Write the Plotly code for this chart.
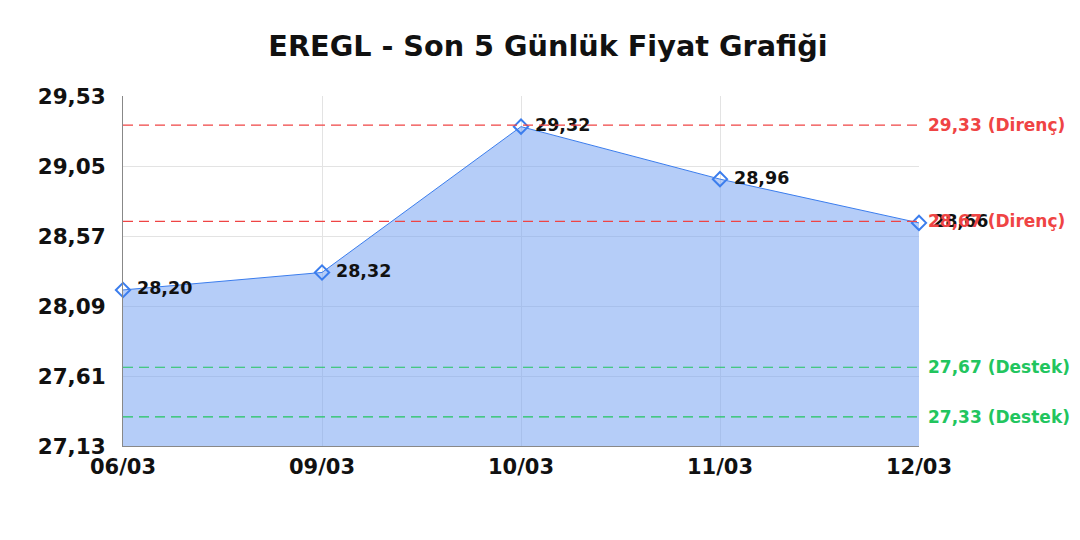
import plotly.graph_objects as go

dates = ["06/03", "09/03", "10/03", "11/03", "12/03"]
prices = [28.20, 28.32, 29.32, 28.96, 28.66]

resistance = [29.33, 28.67]
support = [27.67, 27.33]

y_ticks = [27.13, 27.61, 28.09, 28.57, 29.05, 29.53]

line_color = "#3b7ded"
red = "#ef4444"
green = "#22c55e"
font_family = "DejaVu Sans"


def tr(v):
    return f"{v:.2f}".replace(".", ",")


fig = go.Figure()

fig.add_trace(
    go.Scatter(
        x=dates,
        y=prices,
        mode="lines+markers+text",
        fill="tozeroy",
        fillcolor="rgba(120, 164, 242, 0.55)",
        line=dict(color=line_color, width=1),
        marker=dict(symbol="diamond-open", size=11, color=line_color, line=dict(width=2)),
        text=[" " + tr(p) for p in prices],
        textposition="middle right",
        textfont=dict(family=font_family, size=17.5, color="#111111", weight="bold"),
        cliponaxis=False,
        showlegend=False,
        hoverinfo="x+y",
    )
)

for level in resistance:
    fig.add_shape(
        type="line", xref="paper", yref="y", x0=0, x1=1, y0=level, y1=level,
        line=dict(color=red, width=1.2, dash="10px,6px"), layer="above",
    )
    fig.add_annotation(
        xref="paper", yref="y", x=1, y=level, xanchor="left", xshift=7,
        text=f"{tr(level)} (Direnç)", showarrow=False,
        font=dict(family=font_family, size=17, color=red, weight="bold"),
    )

for level in support:
    fig.add_shape(
        type="line", xref="paper", yref="y", x0=0, x1=1, y0=level, y1=level,
        line=dict(color=green, width=1.2, dash="10px,6px"), layer="above",
    )
    fig.add_annotation(
        xref="paper", yref="y", x=1, y=level, xanchor="left", xshift=7,
        text=f"{tr(level)} (Destek)", showarrow=False,
        font=dict(family=font_family, size=17, color=green, weight="bold"),
    )

fig.update_layout(
    width=1080,
    height=540,
    paper_bgcolor="white",
    plot_bgcolor="white",
    margin=dict(l=115, r=169, t=88, b=102),
    title=dict(
        text="EREGL - Son 5 Günlük Fiyat Grafiği",
        x=0.5, xanchor="center", y=0.93, yanchor="middle",
        font=dict(family=font_family, size=28.7, color="#111111", weight="bold"),
    ),
    xaxis=dict(
        type="category",
        range=[0, 4],
        showgrid=True,
        gridcolor="#e3e3e3",
        showline=True,
        linecolor="#888888",
        ticks="",
        ticklabelstandoff=2,
        tickfont=dict(family=font_family, size=21, color="#111111", weight="bold"),
    ),
    yaxis=dict(
        range=[27.13, 29.53],
        tickvals=y_ticks,
        ticktext=[tr(v) for v in y_ticks],
        showgrid=True,
        gridcolor="#e3e3e3",
        showline=True,
        linecolor="#888888",
        zeroline=False,
        ticks="",
        ticklabelstandoff=12,
        tickfont=dict(family=font_family, size=21.5, color="#111111", weight="bold"),
    ),
)

fig.write_html("out.html")
